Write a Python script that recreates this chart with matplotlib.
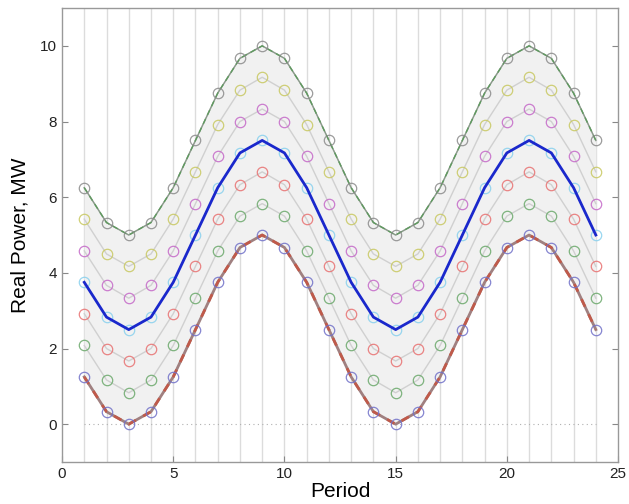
import matplotlib
matplotlib.use("Agg")
import matplotlib.pyplot as plt

periods = list(range(1, 25))
level0 = [6.25, 5.33, 5.00, 5.33, 6.25, 7.50, 8.75, 9.67, 10.00, 9.67, 8.75, 7.50,
          6.25, 5.33, 5.00, 5.33, 6.25, 7.50, 8.75, 9.67, 10.00, 9.67, 8.75, 7.50]
level1 = [5.42, 4.50, 4.17, 4.50, 5.42, 6.67, 7.92, 8.83, 9.17, 8.83, 7.92, 6.67,
          5.42, 4.50, 4.17, 4.50, 5.42, 6.67, 7.92, 8.83, 9.17, 8.83, 7.92, 6.67]
level2 = [4.58, 3.67, 3.33, 3.67, 4.58, 5.83, 7.08, 8.00, 8.33, 8.00, 7.08, 5.83,
          4.58, 3.67, 3.33, 3.67, 4.58, 5.83, 7.08, 8.00, 8.33, 8.00, 7.08, 5.83]
level3 = [3.75, 2.83, 2.50, 2.83, 3.75, 5.00, 6.25, 7.17, 7.50, 7.17, 6.25, 5.00,
          3.75, 2.83, 2.50, 2.83, 3.75, 5.00, 6.25, 7.17, 7.50, 7.17, 6.25, 5.00]
level4 = [2.92, 2.00, 1.67, 2.00, 2.92, 4.17, 5.42, 6.33, 6.67, 6.33, 5.42, 4.17,
          2.92, 2.00, 1.67, 2.00, 2.92, 4.17, 5.42, 6.33, 6.67, 6.33, 5.42, 4.17]
level5 = [2.08, 1.17, 0.83, 1.17, 2.08, 3.33, 4.58, 5.50, 5.83, 5.50, 4.58, 3.33,
          2.08, 1.17, 0.83, 1.17, 2.08, 3.33, 4.58, 5.50, 5.83, 5.50, 4.58, 3.33]
level6 = [1.25, 0.33, 0.00, 0.33, 1.25, 2.50, 3.75, 4.67, 5.00, 4.67, 3.75, 2.50,
          1.25, 0.33, 0.00, 0.33, 1.25, 2.50, 3.75, 4.67, 5.00, 4.67, 3.75, 2.50]
levels = [level0, level1, level2, level3, level4, level5, level6]
marker_colors = ["#8a8a8a", "#c8c860", "#c468c8", "#88d0ee", "#e87070", "#6aa86a", "#7070c8"]

plt.rcParams['font.family'] = ['Liberation Sans', 'DejaVu Sans']
fig = plt.figure(figsize=(6.29, 5.04), dpi=100)
ax = fig.add_axes([0.0986, 0.0833, 0.8840, 0.9008])

for p in periods:
    ax.axvline(p, color="#dcdcdc", lw=1.0, zorder=0)

ax.fill_between(periods, level6, level0, color="#f1f1f1", lw=0, zorder=1)
ax.plot([periods[0], periods[-1]], [0, 0], color="#b0b0b0", lw=0.8, ls=(0, (1, 3)), zorder=1)

for lv in levels:
    ax.plot(periods, lv, color="#d0d0d0", lw=1.0, zorder=2)

ax.plot(periods, level0, color="#8a9a8a", lw=1.0, zorder=3)
ax.plot(periods, level0, color="#5f9a5f", lw=1.0, ls=(0, (4, 3)), zorder=3)
ax.plot(periods, level6, color="#a08080", lw=2.0, zorder=3)
ax.plot(periods, level6, color="#c05a4a", lw=2.0, ls=(0, (3, 3)), zorder=3)
ax.plot(periods, level3, color="#1a28cc", lw=2.0, zorder=5)

for lv, c in zip(levels, marker_colors):
    ax.plot(periods, lv, ls="none", marker="o", ms=7.5, mfc="none", mec=c, mew=0.9, alpha=0.85, zorder=4)

ax.set_xlim(0, 25)
ax.set_ylim(-1, 11)
ax.set_xticks([0, 5, 10, 15, 20, 25])
ax.set_yticks([0, 2, 4, 6, 8, 10])
ax.tick_params(direction="in", top=False, right=True, length=4, width=0.8,
               color="#888888", labelsize=11, labelcolor="#222222")
for s in ax.spines.values():
    s.set_color("#999999")
    s.set_linewidth(1.0)
ax.set_xlabel("Period", fontsize=15, labelpad=1)
ax.set_ylabel("Real Power, MW", fontsize=15, labelpad=8)

fig.savefig("out.png", dpi=100)
